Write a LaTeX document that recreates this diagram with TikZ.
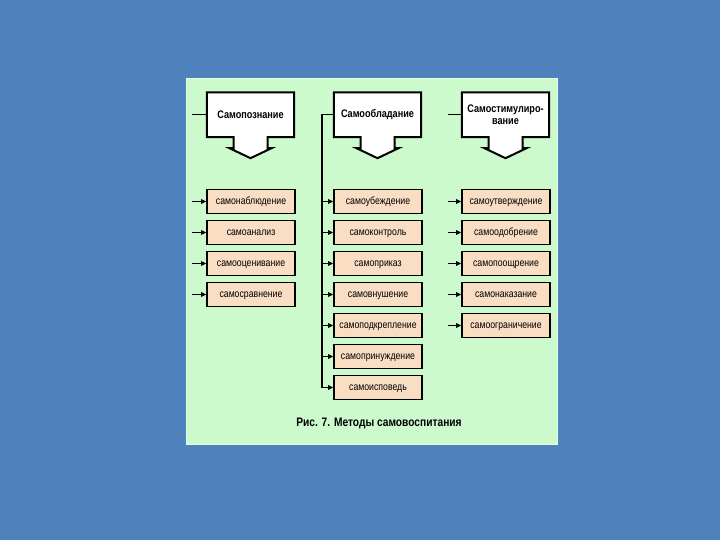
\documentclass[tikz,border=0pt]{standalone}
\usepackage{fontspec}
\setmainfont{Liberation Sans}
\newfontfamily\condfont[FakeStretch=0.83]{Liberation Sans}
\usetikzlibrary{arrows.meta,calc}
\definecolor{bgblue}{RGB}{79,129,189}
\definecolor{panelgreen}{RGB}{205,250,205}
\definecolor{panelrim}{RGB}{228,255,228}
\definecolor{peach}{RGB}{250,222,196}
\pgfdeclarelayer{bg}
\pgfsetlayers{bg,main}
\newcommand\hdrshape[1]{%
  \draw[hdrline] (#1.north west) -- (#1.north east) -- (#1.south east)
    -- ($(#1.south)+(17,0)$) -- ($(#1.south)+(17,11)$) -- ($(#1.south)+(21,11)$)
    -- ($(#1.south)+(0,21)$) -- ($(#1.south)+(-21,11)$) -- ($(#1.south)+(-17,11)$)
    -- ($(#1.south)+(-17,0)$) -- (#1.south west) -- cycle;}
\begin{document}
\begin{tikzpicture}[x=1pt,y=-1pt,
  hdrbox/.style={minimum width=87pt,minimum height=44.5pt,inner sep=0pt,align=center,
    font=\condfont\bfseries\fontsize{11}{12}\selectfont},
  hdrline/.style={draw=black,fill=white,line width=2pt,line join=miter},
  itembox/.style={draw=black,fill=peach,line width=1.6pt,minimum width=88pt,minimum height=24pt,
    inner sep=0pt,text height=7.5pt,text depth=1.5pt,font=\condfont\fontsize{10.5}{12}\selectfont},
  conn/.style={draw=black,line width=1.1pt},
  arr/.style={conn,-{Triangle[length=5pt,width=4.5pt]}},
  caption/.style={font=\condfont\bfseries\fontsize{12.3}{14}\selectfont}]
\useasboundingbox (0,0) rectangle (720,540);
\begin{pgfonlayer}{bg}
  \fill[bgblue] (0,0) rectangle (720,540);
  \draw[fill=panelgreen,draw=panelrim,line width=1pt] (186,79) rectangle (557,444);
\end{pgfonlayer}

% headers
\node[hdrbox] (h1) at (250.5,114.75) {Самопознание};
\node[hdrbox] (h2) at (377.5,114.75) {Самообладание};
\node[hdrbox] (h3) at (505.5,114.75) {Самостимулиро-\\вание};
\begin{pgfonlayer}{bg}
  \hdrshape{h1}
  \hdrshape{h2}
  \hdrshape{h3}
\end{pgfonlayer}

% column 1
\node[itembox] (a1) at (251,201.5) {самонаблюдение};
\node[itembox] (a2) at (251,232.5) {самоанализ};
\node[itembox] (a3) at (251,263.5) {самооценивание};
\node[itembox] (a4) at (251,294.5) {самосравнение};

% column 2
\node[itembox] (b1) at (378,201.5) {самоубеждение};
\node[itembox] (b2) at (378,232.5) {самоконтроль};
\node[itembox] (b3) at (378,263.5) {самоприказ};
\node[itembox] (b4) at (378,294.5) {самовнушение};
\node[itembox] (b5) at (378,325.5) {самоподкрепление};
\node[itembox] (b6) at (378,356.5) {самопринуждение};
\node[itembox] (b7) at (378,387.5) {самоисповедь};

% column 3
\node[itembox] (c1) at (506,201.5) {самоутверждение};
\node[itembox] (c2) at (506,232.5) {самоодобрение};
\node[itembox] (c3) at (506,263.5) {самопоощрение};
\node[itembox] (c4) at (506,294.5) {самонаказание};
\node[itembox] (c5) at (506,325.5) {самоограничение};

% connector anchors
\coordinate (s1) at (192,0);
\coordinate (t) at (322,0);
\coordinate (s3) at (448,0);

% header lead lines
\draw[conn] (h1.west -| s1) -- (h1.west);
\draw[conn] (h3.west -| s3) -- (h3.west);
\draw[arr] (h2.west) -- (h2.west -| t) -- (b7.west -| t) -- (b7.west);

% item arrows
\foreach \n in {a1,a2,a3,a4} \draw[arr] (\n.west -| s1) -- (\n.west);
\foreach \n in {b1,b2,b3,b4,b5,b6} \draw[arr] (\n.west -| t) -- (\n.west);
\foreach \n in {c1,c2,c3,c4,c5} \draw[arr] (\n.west -| s3) -- (\n.west);

% caption
\node[caption] (cap) at (379,423) {Рис. 7. Методы самовоспитания};
\end{tikzpicture}
\end{document}
